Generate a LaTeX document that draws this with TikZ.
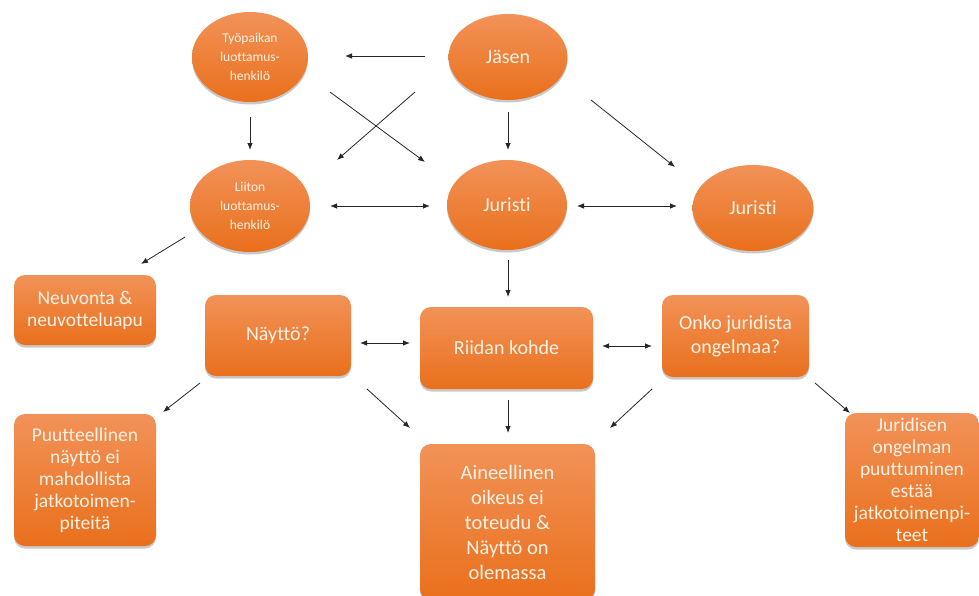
\documentclass[tikz,border=0pt]{standalone}
\usepackage{fontspec}
\setmainfont[Ligatures=NoCommon]{Carlito}
\usetikzlibrary{shapes.geometric,shadows,arrows.meta}
\definecolor{orTop}{RGB}{242,146,88}
\definecolor{orBot}{RGB}{233,112,28}
\definecolor{txt}{RGB}{255,242,230}
\tikzset{
  base/.style={top color=orTop, bottom color=orBot, draw=none, text=txt, align=center, inner sep=0pt,
    drop shadow={shadow xshift=0pt, shadow yshift=-2.5pt, opacity=0.3, fill=black!70}},
  oval/.style={base, ellipse},
  box/.style={base, rectangle, rounded corners=11pt},
  small/.style={font=\fontsize{13.5}{19}\selectfont},
  big/.style={font=\fontsize{20}{24}\selectfont},
  mid/.style={font=\fontsize{19.5}{22}\selectfont},
  arr/.style={-{Latex[length=7pt,width=5.5pt]}, line width=0.8pt, black!85},
  dbl/.style={{Latex[length=7pt,width=5.5pt]}-{Latex[length=7pt,width=5.5pt]}, line width=0.8pt, black!85}
}
\begin{document}
\begin{tikzpicture}[x=1pt,y=-1pt]
\useasboundingbox (0,0) rectangle (979,595);
% ellipses
\node[oval, small, minimum width=116, minimum height=90] (tyo) at (250,57) {Työpaikan\\luottamus-\\henkilö};
\node[oval, big, minimum width=119, minimum height=86] (jas) at (508,57) {Jäsen};
\node[oval, small, minimum width=120, minimum height=92] (lii) at (250,206) {Liiton\\luottamus-\\henkilö};
\node[oval, big, minimum width=120, minimum height=90] (jur) at (507,205) {Juristi};
\node[oval, big, minimum width=121, minimum height=86] (jur2) at (753,208) {Juristi};
% boxes
\node[box, mid, minimum width=142, minimum height=70] (neu) at (85,310) {Neuvonta \&\\neuvotteluapu};
\node[box, big, minimum width=146, minimum height=81] (nay) at (278,335.5) {Näyttö?};
\node[box, big, minimum width=173, minimum height=82] (rii) at (506.5,348) {Riidan kohde};
\node[box, big, minimum width=147, minimum height=82] (onko) at (735.5,336) {Onko juridista\\ongelmaa?};
\node[box, mid, minimum width=142, minimum height=132] (puu) at (85,480) {Puutteellinen\\näyttö ei\\mahdollista\\jatkotoimen-\\piteitä};
\node[box, font=\fontsize{20.5}{25}\selectfont, minimum width=175, minimum height=156] (ain) at (507.5,522) {Aineellinen\\oikeus ei\\toteudu \&\\Näyttö on\\olemassa};
\node[box, mid, minimum width=134, minimum height=134] (jrd) at (912,480) {Juridisen\\ongelman\\puuttuminen\\estää\\jatkotoimenpi-\\teet};
% connectors
\draw[arr] ([shift={(-83,-1)}]jas.center) -- ([shift={(95,-1)}]tyo.center);
\draw[arr] ([shift={(80,35)}]tyo.center) -- ([shift={(-82,-43)}]jur.center);
\draw[arr] ([shift={(-93,35)}]jas.center) -- ([shift={(87,-46)}]lii.center);
\draw[arr] ([shift={(0,60)}]tyo.center) -- ([shift={(0,-56)}]lii.center);
\draw[arr] ([shift={(0,55)}]jas.center) -- ([shift={(1,-55)}]jur.center);
\draw[arr] ([shift={(83,43)}]jas.center) -- ([shift={(-78,-41)}]jur2.center);
\draw[dbl] ([shift={(80,0)}]lii.center) -- ([shift={(-77,1)}]jur.center);
\draw[dbl] ([shift={(70,1)}]jur.center) -- ([shift={(-76,-2)}]jur2.center);
\draw[arr] ([shift={(-65,31)}]lii.center) -- ([shift={(56,-46)}]neu.center);
\draw[arr] ([shift={(1,55)}]jur.center) -- ([shift={(1.5,-51)}]rii.center);
\draw[dbl] ([shift={(82,7.5)}]nay.center) -- ([shift={(-96.5,-5)}]rii.center);
\draw[dbl] ([shift={(95.5,-2)}]rii.center) -- ([shift={(-83.5,10)}]onko.center);
\draw[arr] ([shift={(-78,47.5)}]nay.center) -- ([shift={(78,-68)}]puu.center);
\draw[arr] ([shift={(89,53.5)}]nay.center) -- ([shift={(-97.5,-94)}]ain.center);
\draw[arr] ([shift={(1.5,52)}]rii.center) -- ([shift={(0.5,-89)}]ain.center);
\draw[arr] ([shift={(-83.5,53)}]onko.center) -- ([shift={(102.5,-94)}]ain.center);
\draw[arr] ([shift={(79.5,47)}]onko.center) -- ([shift={(-62,-67)}]jrd.center);
\end{tikzpicture}
\end{document}
